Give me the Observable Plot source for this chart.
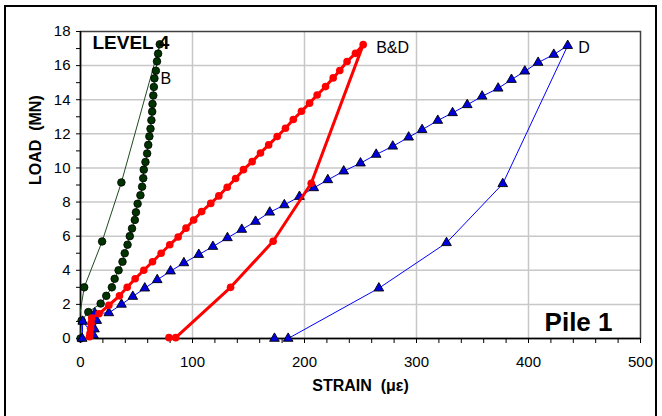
<!DOCTYPE html>
<html><head><meta charset="utf-8">
<script src="https://cdn.jsdelivr.net/npm/d3@7"></script>
<script src="https://cdn.jsdelivr.net/npm/@observablehq/plot@0.6"></script>
<style>
body{margin:0;background:#fff;}
#wrap{position:relative;width:662px;height:416px;overflow:hidden;}
#border{position:absolute;left:4px;top:5px;width:653px;height:440px;border:2px solid #000;box-sizing:border-box;pointer-events:none;}
</style></head><body><div id="wrap"><div id="border"></div></div>
<script>
// ---- data (strain in microstrain, load in MN) ----
const bStrain = [0,1,7,18,23,28,30.5,34,37.5,39.5,42,44,46,48.5,49.5,51,53.5,55,56,56.5,58,59.5,60.5,61.5,62.5,63.3,64,64.3,65,65.5,66,67.3,68.3,69.3,70.8,
                 36.5,19.3,3.3,-4];
const bLoad   = [0,1.05,1.55,2.05,2.5,3.0,3.5,4.0,4.5,5.0,5.5,6.0,6.45,6.95,7.4,7.9,8.4,8.9,9.4,9.9,10.35,10.85,11.35,11.85,12.3,12.8,13.3,13.75,14.25,14.75,15.25,15.7,16.25,16.7,17.25,
                 9.15,5.69,3.0,0];
const bdStrain = [8,8.5,9,9.5,10,16.5,25.3,34.8,41.7,48.8,56.5,64.3,72,79.7,87.2,94.2,101,108.2,116.3,123.5,131,138.5,145.5,153.3,160.7,168,175.6,183,190,197.3,204.5,211.3,218.8,225.6,231.5,238,245.5,252.4,
                  206,172,134,85,79];
const bdLoad   = [0.1,0.3,0.6,0.9,1.2,1.45,1.95,2.5,3.0,3.5,4.0,4.5,5.0,5.5,5.95,6.47,6.95,7.44,7.92,8.36,8.87,9.38,9.9,10.37,10.88,11.35,11.84,12.33,12.84,13.32,13.8,14.28,14.77,15.28,15.71,16.24,16.72,17.23,
                  9.1,5.7,3.0,0.05,0.05];
const dStrain = [1.5,2,11.5,12.5,14.5,12.8,25.3,36.6,46.7,57.4,68.5,80.4,92.3,105.6,118.2,131.2,144,156.3,169,182,195.5,208.3,220.8,235,250,264,278.8,293,305,319,332.2,345.3,358.6,372.9,384.8,396.7,408.6,422.6,435,
                 377,326.8,266.4,185.4,173.2];
const dLoad   = [0,1.0,0.2,0.55,1.05,1.48,1.5,2.0,2.46,2.95,3.44,3.95,4.43,4.92,5.39,5.9,6.39,6.86,7.4,7.83,8.32,8.83,9.3,9.81,10.28,10.79,11.27,11.8,12.24,12.78,13.23,13.7,14.2,14.67,15.18,15.67,16.18,16.65,17.17,
                 9.07,5.61,2.95,0,0];
const xTicks = [0,100,200,300,400,500];
const yTicks = [0,2,4,6,8,10,12,14,16,18];
const xMinor = d3.range(0,501,20);
const yMinor = d3.range(0,19,1);
const xGrid = [100,200,300,400];
const yGrid = [2,4,6,8,10,12,14,16];
const seriesNames = ["B","B&D","D"];
const xTitle = "STRAIN\u00a0 (\u03bc\u03b5)";
const yTitle = "LOAD\u00a0 (MN)";
const levelText = "LEVEL 4";
const pileText = "Pile 1";

const rows = (xs, ys) => xs.map((x,i) => ({x, y: ys[i]}));
const bRows = rows(bStrain, bLoad), bdRows = rows(bdStrain, bdLoad), dRows = rows(dStrain, dLoad);
const font = "Liberation Sans, Arial, sans-serif";

const chart = Plot.plot({
  width: 662, height: 416,
  marginLeft: 80, marginRight: 22, marginTop: 31, marginBottom: 78,
  style: {fontFamily: font, fontSize: "15px", color: "#000", background: "transparent", overflow: "visible"},
  x: {domain: [0,500], label: null},
  y: {domain: [0,18], label: null},
  marks: [
    Plot.ruleX(xGrid, {stroke: "#c8c8c8", strokeWidth: 1.5}),
    Plot.ruleY(yGrid, {stroke: "#c8c8c8", strokeWidth: 1.5}),
    Plot.frame({stroke: "#404040", strokeWidth: 1.5}),
    Plot.axisX({ticks: xMinor, tickSize: 5, tickFormat: () => "", label: null}),
    Plot.axisX({ticks: xTicks, tickSize: 0, tickPadding: 18, fontSize: 15, label: null}),
    Plot.axisY({ticks: yMinor, tickSize: 4, tickFormat: () => "", label: null}),
    Plot.axisY({ticks: yTicks, tickSize: 0, tickPadding: 10, fontSize: 15, label: null}),
    Plot.ruleY([0], {stroke: "#000", strokeWidth: 1.5}),
    Plot.ruleX([0], {stroke: "#000", strokeWidth: 1.5}),
    // B
    Plot.line(bRows, {x: "x", y: "y", stroke: "#1f4a1f", strokeWidth: 1, clip: true}),
    Plot.dot(bRows.filter(d => d.x >= 0), {x: "x", y: "y", r: 3.8, fill: "#003300", stroke: "#000", strokeWidth: 0.8}),
    // D
    Plot.line(dRows, {x: "x", y: "y", stroke: "#0000ff", strokeWidth: 1, clip: true}),
    Plot.dot(dRows, {x: "x", y: "y", symbol: "triangle", r: 3.6, fill: "#0000dd", stroke: "#000", strokeWidth: 0.9}),
    // B&D
    Plot.line(bdRows, {x: "x", y: "y", stroke: "#ff0000", strokeWidth: 3, clip: true}),
    Plot.dot(bdRows, {x: "x", y: "y", r: 3.8, fill: "#ff0000"}),
    // series labels
    Plot.text([seriesNames[0]], {x: () => 71.5, y: () => 15.2, textAnchor: "start", fontSize: 16}),
    Plot.text([seriesNames[1]], {x: () => 264, y: () => 17.05, textAnchor: "start", fontSize: 16}),
    Plot.text([seriesNames[2]], {x: () => 444.5, y: () => 17.05, textAnchor: "start", fontSize: 16}),
    // annotations
    Plot.text([levelText], {frameAnchor: "top-left", dx: 12, dy: 4, textAnchor: "start", lineAnchor: "top", fontSize: 19, fontWeight: "bold"}),
    Plot.text([pileText], {frameAnchor: "bottom-right", dx: -28, dy: -8, textAnchor: "end", lineAnchor: "bottom", fontSize: 26, fontWeight: "bold"}),
    // axis titles
    Plot.text([yTitle], {frameAnchor: "left", dx: -45, rotate: -90, fontSize: 16, fontWeight: "bold"}),
    Plot.text([xTitle], {frameAnchor: "bottom", dy: 52, fontSize: 16, fontWeight: "bold"})
  ]
});
document.getElementById("wrap").appendChild(chart);
</script>
</body></html>
